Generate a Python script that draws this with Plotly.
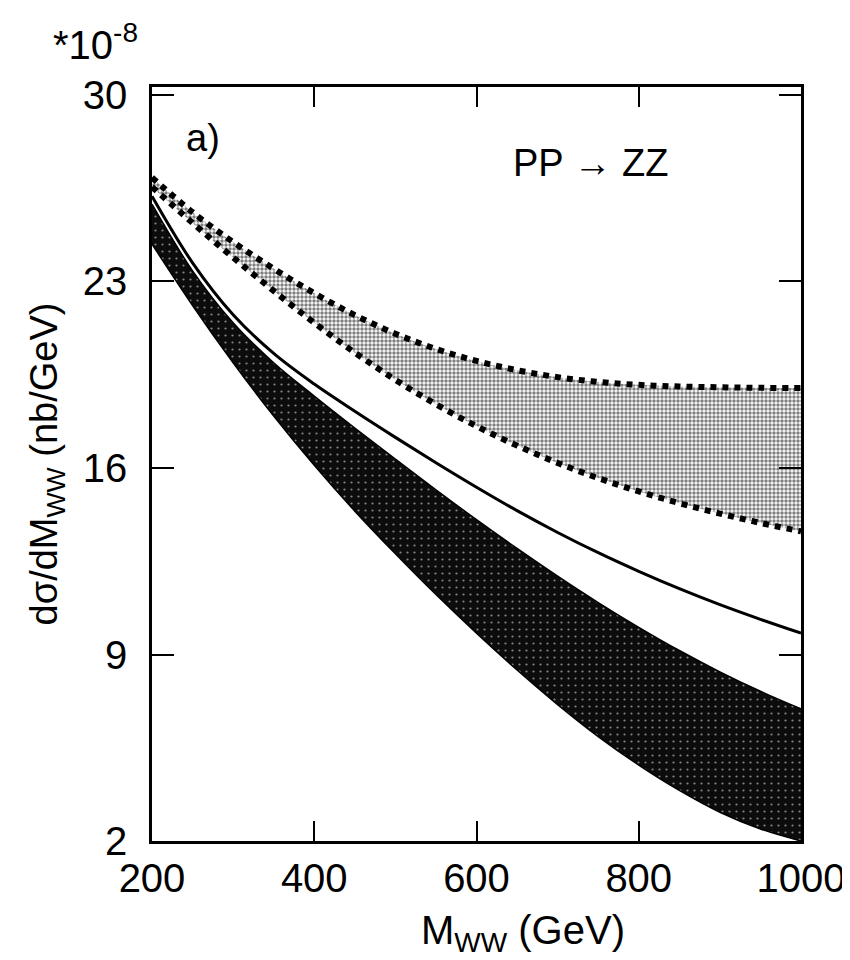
import plotly.graph_objects as go

# M_WW grid (GeV)
m_ww = [200, 250, 300, 350, 400, 450, 500, 550, 600, 650, 700, 750, 800, 850, 900, 950, 1000]

# light (dotted) band, in units of 1e-8 nb/GeV
light_upper = [26.9, 25.6, 24.48, 23.48, 22.56, 21.74, 21.04, 20.47, 20.02, 19.67, 19.41, 19.23, 19.12, 19.06, 19.03, 19.01, 19.0]
light_lower = [26.55, 25.2, 23.9, 22.65, 21.45, 20.33, 19.31, 18.39, 17.57, 16.84, 16.19, 15.62, 15.12, 14.68, 14.29, 13.94, 13.62]

# central solid curve
central = [26.2, 23.7, 21.75, 20.3, 19.15, 18.13, 17.15, 16.2, 15.28, 14.4, 13.58, 12.82, 12.12, 11.47, 10.87, 10.32, 9.8]

# dark band
dark_upper = [25.9, 23.4, 21.45, 19.95, 18.7, 17.5, 16.33, 15.18, 14.06, 12.98, 11.94, 10.95, 10.02, 9.15, 8.35, 7.62, 6.96]
dark_lower = [24.4, 22.1, 19.95, 17.95, 16.1, 14.38, 12.78, 11.25, 9.8, 8.42, 7.12, 5.92, 4.85, 3.9, 3.08, 2.45, 2.0]

y_ticks = [2, 9, 16, 23, 30]
x_ticks = [200, 400, 600, 800, 1000]

FONT = "Liberation Sans, Arial, sans-serif"

fig = go.Figure()

# dark band
fig.add_trace(go.Scatter(
    x=m_ww, y=dark_lower, mode="lines", line=dict(color="black", width=1.5, shape="spline"),
    showlegend=False,
))
fig.add_trace(go.Scatter(
    x=m_ww, y=dark_upper, mode="lines", line=dict(color="black", width=1.5, shape="spline"),
    fill="tonexty", fillcolor="#0c0c0c",
    fillpattern=dict(shape=".", bgcolor="#0c0c0c", fgcolor="white", size=7, solidity=0.08),
    showlegend=False,
))

# central curve
fig.add_trace(go.Scatter(
    x=m_ww, y=central, mode="lines", line=dict(color="black", width=3, shape="spline"),
    showlegend=False,
))

# light band
fig.add_trace(go.Scatter(
    x=m_ww, y=light_lower, mode="lines",
    line=dict(color="black", width=6, dash="6px,6px", shape="spline"),
    showlegend=False,
))
fig.add_trace(go.Scatter(
    x=m_ww, y=light_upper, mode="lines",
    line=dict(color="black", width=6, dash="6px,6px", shape="spline"),
    fill="tonexty", fillcolor="#a8a8a8",
    fillpattern=dict(shape=".", bgcolor="white", fgcolor="black", size=4, solidity=0.6),
    showlegend=False,
))

fig.add_annotation(text="*10<sup>-8</sup>", xref="paper", yref="paper", x=-0.155, y=1.06,
                   xanchor="left", yanchor="middle", showarrow=False, font=dict(size=40))
fig.add_annotation(text="a)", xref="paper", yref="paper", x=0.05, y=0.932,
                   xanchor="left", yanchor="middle", showarrow=False, font=dict(size=38))
fig.add_annotation(text="PP \u2192 ZZ", xref="paper", yref="paper", x=0.553, y=0.899,
                   xanchor="left", yanchor="middle", showarrow=False, font=dict(size=38))
# x-axis title, placed to match the original
fig.add_annotation(text="M<sub>WW</sub> (GeV)", xref="paper", yref="paper", x=0.572, y=-0.122,
                   xanchor="center", yanchor="middle", showarrow=False, font=dict(size=40))

axis_common = dict(
    showgrid=False, zeroline=False, showline=True, linecolor="black", linewidth=2.5,
    mirror="ticks", ticks="inside", tickcolor="black", tickwidth=2,
    tickfont=dict(size=40),
)

fig.update_layout(
    width=850, height=960,
    font=dict(family=FONT, color="black"),
    plot_bgcolor="white", paper_bgcolor="white",
    margin=dict(l=144, r=57, t=79, b=127),
    xaxis=dict(range=[200, 1000], tickvals=x_ticks, ticklen=20, **axis_common),
    yaxis=dict(range=[2, 30.3], tickvals=y_ticks, ticklen=22, ticklabelstandoff=14,
               title=dict(text="d\u03c3/dM<sub>WW</sub> (nb/GeV)", font=dict(size=38), standoff=14),
               **axis_common),
)

fig.write_html("out.html")
